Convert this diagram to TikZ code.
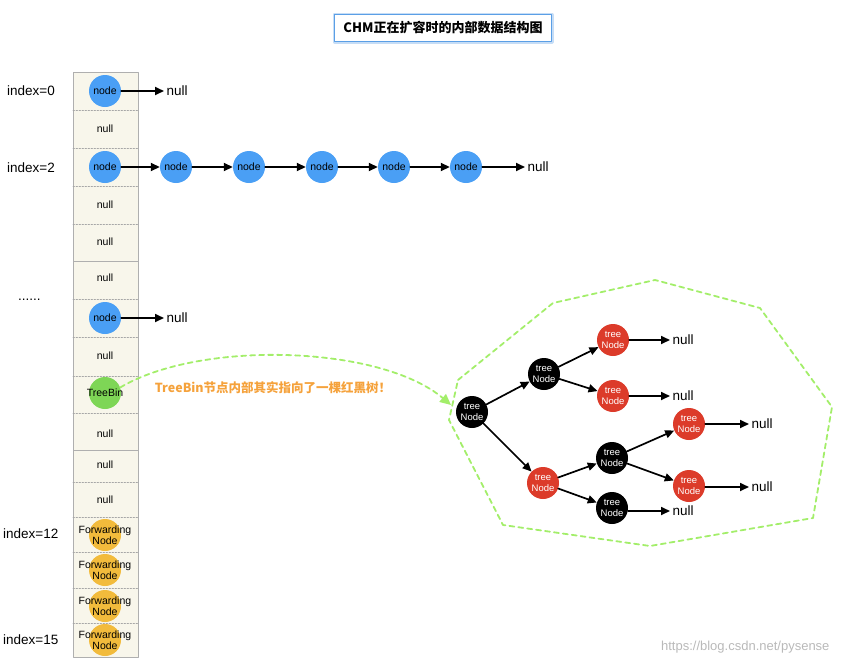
\documentclass[tikz,border=0pt]{standalone}
\usepackage{fontspec}
\setmainfont{Liberation Sans}
\newfontfamily\cjk{Noto Sans CJK SC}
\usetikzlibrary{arrows.meta,positioning}

\definecolor{bucketblue}{HTML}{4A9FF5}
\definecolor{bingreen}{HTML}{7ED656}
\definecolor{fwdyellow}{HTML}{F2BB3C}
\definecolor{rbred}{HTML}{DC3B2A}
\definecolor{cellfill}{HTML}{F8F6EB}
\definecolor{cellline}{HTML}{AFAFAF}
\definecolor{hullgreen}{HTML}{A3EE6A}
\definecolor{notecolor}{HTML}{F5A23C}
\definecolor{titleblue}{HTML}{5B9FE6}

\begin{document}
\begin{tikzpicture}[x=1pt,y=-1pt,line cap=round,line join=round,
  cell/.style={fill=cellfill,draw=cellline,line width=1pt},
  divider/.style={draw=gray!70,dash pattern=on 1.5pt off 1.5pt,line width=0.6pt},
  bucket/.style={circle,minimum size=32pt,inner sep=0pt,font=\fontsize{10.5}{12}\selectfont},
  listnode/.style={bucket,fill=bucketblue},
  bin/.style={bucket,fill=bingreen,label={[font=\fontsize{10.5}{12}\selectfont]center:TreeBin}},
  fwd/.style={bucket,fill=fwdyellow,label={[font=\fontsize{10.5}{11.5}\selectfont,align=center]center:Forwarding\\Node}},
  nullcell/.style={font=\fontsize{10.5}{12}\selectfont},
  nulltext/.style={inner sep=2.5pt,font=\fontsize{13.5}{15}\selectfont},
  idx/.style={anchor=west,inner sep=0pt,font=\fontsize{13.5}{15}\selectfont},
  rbnode/.style={circle,minimum size=32pt,inner sep=0pt,text=white,align=center,font=\fontsize{9.5}{10.5}\selectfont},
  blacknode/.style={rbnode,fill=black},
  rednode/.style={rbnode,fill=rbred},
  link/.style={-{Triangle[length=9pt,width=8pt]},line width=1.7pt},
  hull/.style={draw=hullgreen,dash pattern=on 5pt off 4pt,line width=1.8pt},
  pointer/.style={hull,-{Triangle[length=11pt,width=10pt]}},
  titlebox/.style={draw=titleblue,fill=white,line width=1.2pt,minimum width=217pt,minimum height=27pt,
    preaction={draw=titleblue!35,line width=4pt},font=\fontsize{13}{15}\selectfont\cjk\bfseries}
]
  \useasboundingbox (0,0) rectangle (843,664);

  % title
  \node[titlebox] (title) at (443,28) {CHM正在扩容时的内部数据结构图};

  % the table
  \draw[cell] (73,72) rectangle (138,261);
  \draw[cell] (73,261) rectangle (138,450);
  \draw[cell] (73,450) rectangle (138,657);
  \draw[divider] (73,110) -- (138,110);
  \draw[divider] (73,148) -- (138,148);
  \draw[divider] (73,186) -- (138,186);
  \draw[divider] (73,224) -- (138,224);
  \draw[divider] (73,299) -- (138,299);
  \draw[divider] (73,337) -- (138,337);
  \draw[divider] (73,376) -- (138,376);
  \draw[divider] (73,413) -- (138,413);
  \draw[divider] (73,482) -- (138,482);
  \draw[divider] (73,517) -- (138,517);
  \draw[divider] (73,552) -- (138,552);
  \draw[divider] (73,588) -- (138,588);
  \draw[divider] (73,623) -- (138,623);

  \node[idx] (i0) at (7,91) {index=0};
  \node[idx] (i2) at (7,168) {index=2};
  \node[idx] (dots) at (18,300) {......};
  \node[idx] (i12) at (3,534) {index=12};
  \node[idx] (i15) at (3,640) {index=15};

  \node[listnode] (b0) at (105,91) {node};
  \node[nullcell] (c1) at (105,129) {null};
  \node[listnode] (b2) at (105,167) {node};
  \node[nullcell] (c3) at (105,205) {null};
  \node[nullcell] (c4) at (105,242) {null};
  \node[nullcell] (c5) at (105,278) {null};
  \node[listnode] (b6) at (105,318) {node};
  \node[nullcell] (c7) at (105,356) {null};
  \node[bin] (bin) at (105,393) {};
  \node[nullcell] (c9) at (105,434) {null};
  \node[nullcell] (c10) at (105,465) {null};
  \node[nullcell] (c11) at (105,500) {null};
  \node[fwd] (f12) at (105,535) {};
  \node[fwd] (f13) at (105,570) {};
  \node[fwd] (f14) at (105,606) {};
  \node[fwd] (f15) at (105,640) {};

  % index 0 and 6
  \node[nulltext,anchor=west] (n0) at (164,91) {null};
  \draw[link] (b0) -- (n0);
  \node[nulltext,anchor=west] (n6) at (164,318) {null};
  \draw[link] (b6) -- (n6);

  % index 2, linked list
  \node[listnode] (l1) at (176,167) {node};
  \node[listnode] (l2) at (249,167) {node};
  \node[listnode] (l3) at (322,167) {node};
  \node[listnode] (l4) at (394,167) {node};
  \node[listnode] (l5) at (466,167) {node};
  \node[nulltext,anchor=west] (n2) at (525,167) {null};
  \draw[link] (b2) -- (l1);
  \draw[link] (l1) -- (l2);
  \draw[link] (l2) -- (l3);
  \draw[link] (l3) -- (l4);
  \draw[link] (l4) -- (l5);
  \draw[link] (l5) -- (n2);

  % red-black tree
  \draw[hull] (458,380) -- (553,303) -- (655,280) -- (760,308) -- (832,407)
    -- (813,518) -- (650,546) -- (503,525) -- (449,420) -- cycle;
  \node[blacknode] (t0) at (472,412) {tree\\Node};
  \node[blacknode] (t1) at (544,374) {tree\\Node};
  \node[rednode] (t2) at (543,483) {tree\\Node};
  \node[rednode] (t3) at (613,340) {tree\\Node};
  \node[rednode] (t4) at (613,396) {tree\\Node};
  \node[blacknode] (t5) at (612,458) {tree\\Node};
  \node[blacknode] (t6) at (612,508) {tree\\Node};
  \node[rednode] (t7) at (689,424) {tree\\Node};
  \node[rednode] (t8) at (689,486) {tree\\Node};
  \draw[link] (t0) -- (t1);
  \draw[link] (t0) -- (t2);
  \draw[link] (t1) -- (t3);
  \draw[link] (t1) -- (t4);
  \draw[link] (t2) -- (t5);
  \draw[link] (t2) -- (t6);
  \draw[link] (t5) -- (t7);
  \draw[link] (t5) -- (t8);
  \node[nulltext,anchor=west] (n3) at (670,340) {null};
  \node[nulltext,anchor=west] (n4) at (670,396) {null};
  \node[nulltext,anchor=west] (n7) at (749,424) {null};
  \node[nulltext,anchor=west] (n8) at (749,487) {null};
  \node[nulltext,anchor=west] (n6b) at (670,511) {null};
  \draw[link] (t3) -- (n3);
  \draw[link] (t4) -- (n4);
  \draw[link] (t7) -- (n7);
  \draw[link] (t8.east |- n8) -- (n8);
  \draw[link] (t6.east |- n6b) -- (n6b);

  % TreeBin points to the tree
  \coordinate (treein) at (451,405);
  \draw[pointer] (bin.20) .. controls (200,340) and (380,345) .. (treein);
  \node[text=notecolor,font=\fontsize{12.5}{15}\selectfont\cjk\bfseries] (note) at (273,388) {TreeBin节点内部其实指向了一棵红黑树！};

  \node[anchor=east,text=gray!55,font=\fontsize{13}{15}\selectfont] (mark) at (833,647) {https://blog.csdn.net/pysense};
\end{tikzpicture}
\end{document}
